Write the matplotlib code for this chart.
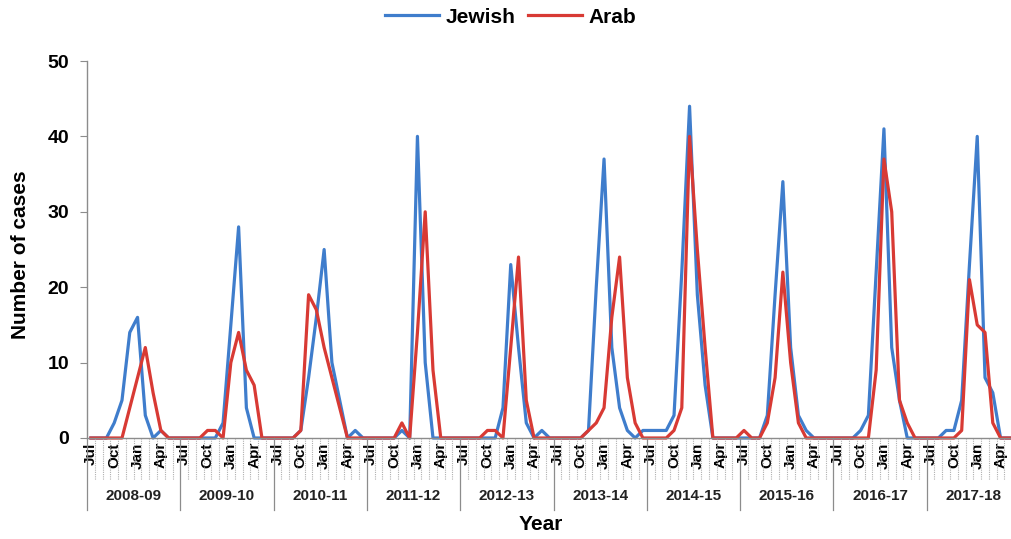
import matplotlib
matplotlib.use('Agg')
import matplotlib.pyplot as plt
import numpy as np

# seasons run Jul..Jun
seasons = ['2008-09', '2009-10', '2010-11', '2011-12', '2012-13',
           '2013-14', '2014-15', '2015-16', '2016-17', '2017-18']
months = ['Jul', 'Aug', 'Sep', 'Oct', 'Nov', 'Dec',
          'Jan', 'Feb', 'Mar', 'Apr', 'May', 'Jun']
shown_months = ['Jul', 'Oct', 'Jan', 'Apr']

# monthly number of cases, one row per season
jewish = [0, 0, 0, 2, 5, 14, 16, 3, 0, 1, 0, 0,
          0, 0, 0, 0, 0, 2, 15, 28, 4, 0, 0, 0,
          0, 0, 0, 1, 8, 16, 25, 10, 5, 0, 1, 0,
          0, 0, 0, 0, 1, 0, 40, 10, 0, 0, 0, 0,
          0, 0, 0, 0, 0, 4, 23, 12, 2, 0, 1, 0,
          0, 0, 0, 0, 1, 20, 37, 12, 4, 1, 0, 1,
          1, 1, 1, 3, 22, 44, 19, 7, 0, 0, 0, 0,
          0, 0, 0, 3, 19, 34, 12, 3, 1, 0, 0, 0,
          0, 0, 0, 1, 3, 22, 41, 12, 5, 0, 0, 0,
          0, 0, 1, 1, 5, 23, 40, 8, 6, 0, 0, 0]

arab = [0, 0, 0, 0, 0, 4, 8, 12, 6, 1, 0, 0,
        0, 0, 0, 1, 1, 0, 10, 14, 9, 7, 0, 0,
        0, 0, 0, 1, 19, 17, 12, 8, 4, 0, 0, 0,
        0, 0, 0, 0, 2, 0, 14, 30, 9, 0, 0, 0,
        0, 0, 0, 1, 1, 0, 12, 24, 5, 0, 0, 0,
        0, 0, 0, 0, 1, 2, 4, 16, 24, 8, 2, 0,
        0, 0, 0, 1, 4, 40, 25, 12, 0, 0, 0, 0,
        1, 0, 0, 2, 8, 22, 10, 2, 0, 0, 0, 0,
        0, 0, 0, 0, 0, 9, 37, 30, 5, 2, 0, 0,
        0, 0, 0, 0, 1, 21, 15, 14, 2, 0, 0, 0]

blue = '#3f7dcc'
red = '#d83a34'
grey = '#8c8c8c'
bold_font = ['Liberation Sans', 'DejaVu Sans']

fig = plt.figure(figsize=(10.11, 5.39), dpi=100)
# the category axis runs a little past the right edge of the picture
ax = fig.add_axes([87 / 1011, 101 / 539, 933 / 1011, 377 / 539])

x = np.arange(len(jewish))
ax.plot(x, jewish, color=blue, lw=2.3, label='Jewish', clip_on=False)
ax.plot(x, arab, color=red, lw=2.3, label='Arab', clip_on=False)

ax.set_xlim(-0.5, len(jewish) - 0.5)
ax.set_ylim(0, 50)
ax.set_yticks(range(0, 51, 10))

for side in ['top', 'right']:
    ax.spines[side].set_visible(False)
for side in ['left', 'bottom']:
    ax.spines[side].set_color(grey)
    ax.spines[side].set_linewidth(1)

ax.tick_params(axis='y', direction='out', length=5, color=grey, pad=8)
for lab in ax.get_yticklabels():
    lab.set_fontsize(14)
    lab.set_fontweight('bold')
    lab.set_family(bold_font)

# month labels, only every third month shown
ax.set_xticks(x)
ax.set_xticklabels([m if m in shown_months else '' for s in seasons for m in months],
                   rotation=90, fontsize=11, fontweight='bold', family=bold_font)
ax.tick_params(axis='x', length=0, pad=3)

# separators under the axis: dotted per month, solid per season
trans = ax.get_xaxis_transform()
for b in np.arange(-0.5, len(jewish), 1.0):
    k = int(b + 0.5)
    if k % 12 == 0:
        ax.plot([b, b], [0, -0.19], transform=trans, color=grey, lw=0.9,
                clip_on=False)
    else:
        ax.plot([b, b], [0, -0.111], transform=trans, color='#b0b0b0', lw=0.8,
                ls=(0, (1, 1)), clip_on=False)

for i, s in enumerate(seasons):
    ax.text(12 * i + 5.5, -0.155, s, transform=trans, ha='center', va='center',
            fontsize=11, fontweight='bold', family=bold_font, color='#222222')

fig.text(0.535, 0.027, 'Year', ha='center', va='center', fontsize=15,
         fontweight='bold', family=bold_font)
fig.text(0.02, 0.527, 'Number of cases', ha='center', va='center', rotation=90,
         fontsize=15, fontweight='bold', family=bold_font)

fig.legend(loc='center', bbox_to_anchor=(0.505, 0.968), ncol=2, frameon=False,
           handlelength=2.6, handletextpad=0.3, columnspacing=0.6,
           prop={'family': bold_font, 'weight': 'bold', 'size': 15})

fig.savefig('out.png', dpi=100)
